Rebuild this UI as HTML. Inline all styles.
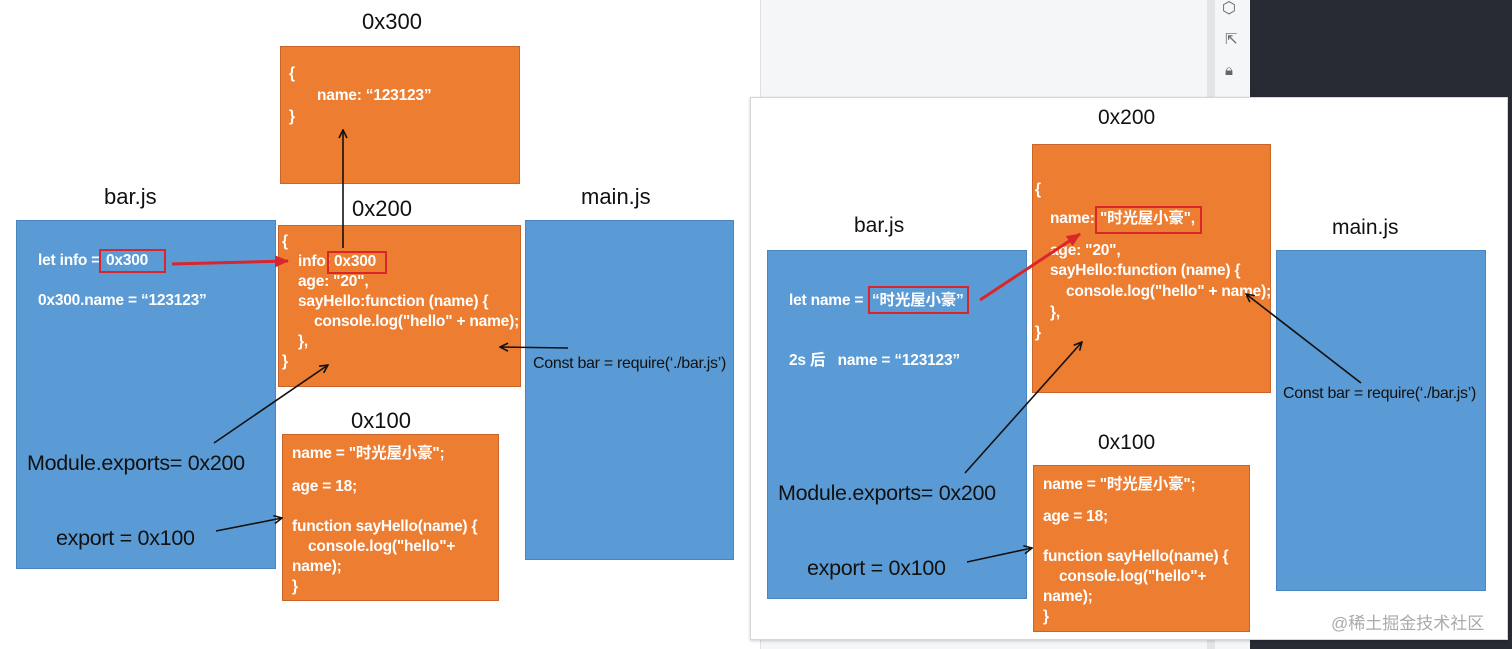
<!DOCTYPE html>
<html><head><meta charset="utf-8"><style>
body{margin:0;width:1512px;height:649px;position:relative;overflow:hidden;background:#fff;font-family:"Liberation Sans","Noto Sans CJK SC",sans-serif;}
div{position:absolute;box-sizing:border-box;}
.o{background:#ed7d31;border:1px solid #c8642a;}
.b{background:#5b9bd5;border:1px solid #4a85bd;}
.t{color:#fff;font-weight:bold;font-size:15.5px;letter-spacing:-0.2px;white-space:nowrap;line-height:20px;}
.l{color:#111;font-size:22px;white-space:nowrap;}
.k{color:#111;font-size:21.5px;white-space:nowrap;letter-spacing:-0.3px;}
.s{color:#111;font-size:16px;white-space:nowrap;letter-spacing:-0.3px;}
.r{border:2px solid #d8262a;}
</style></head><body>
<div style="left:760px;top:0;width:455px;height:649px;background:#f5f6f8;border-left:1px solid #dfe1e5"></div>
<div style="left:1207px;top:0;width:8px;height:649px;background:#e2e4e8"></div>
<div style="left:1215px;top:0;width:35px;height:649px;background:#f5f6f8"></div>
<div style="left:1250px;top:0;width:262px;height:649px;background:#282b33"></div>
<div style="left:1222px;top:-2px;color:#666;font-size:16px">⬡</div>
<div style="left:1225px;top:30px;color:#666;font-size:15px">⇱</div>
<div style="left:1225px;top:62px;color:#666;font-size:15px">🔒︎</div>
<div style="left:750px;top:97px;width:758px;height:543px;background:#fff;border:1px solid #d6d6d6;box-shadow:0 1px 3px rgba(0,0,0,.2)"></div>

<div class="l" style="left:362px;top:9px">0x300</div>
<div class="o" style="left:280px;top:46px;width:240px;height:138px"></div>
<div class="t" style="left:289px;top:64px">{</div>
<div class="t" style="left:317px;top:86px">name: “123123”</div>
<div class="t" style="left:289px;top:107px">}</div>

<div class="l" style="left:104px;top:184px">bar.js</div>
<div class="b" style="left:16px;top:220px;width:260px;height:349px"></div>
<div class="t" style="left:38px;top:251px">let info = </div>
<div class="r" style="left:99px;top:249px;width:67px;height:24px"></div>
<div class="t" style="left:106px;top:251px">0x300</div>
<div class="t" style="left:38px;top:291px">0x300.name = “123123”</div>
<div class="k" style="left:27px;top:451px">Module.exports= 0x200</div>
<div class="k" style="left:56px;top:526px">export = 0x100</div>

<div class="l" style="left:352px;top:196px">0x200</div>
<div class="o" style="left:278px;top:225px;width:243px;height:162px"></div>
<div class="t" style="left:282px;top:232px">{</div>
<div class="t" style="left:298px;top:252px">info: </div>
<div class="r" style="left:327px;top:251px;width:60px;height:23px"></div>
<div class="t" style="left:334px;top:252px">0x300</div>
<div class="t" style="left:298px;top:272px">age: "20",</div>
<div class="t" style="left:298px;top:292px">sayHello:function (name) {</div>
<div class="t" style="left:314px;top:312px;width:210px;overflow:hidden">console.log("hello" + name);</div>
<div class="t" style="left:298px;top:332px">},</div>
<div class="t" style="left:282px;top:352px">}</div>

<div class="l" style="left:581px;top:184px">main.js</div>
<div class="b" style="left:525px;top:220px;width:209px;height:340px"></div>
<div class="s" style="left:533px;top:355px">Const bar = require(‘./bar.js’)</div>

<div class="l" style="left:351px;top:408px">0x100</div>
<div class="o" style="left:282px;top:434px;width:217px;height:167px"></div>
<div class="t" style="left:292px;top:444px">name = "时光屋小豪";</div>
<div class="t" style="left:292px;top:477px">age = 18;</div>
<div class="t" style="left:292px;top:517px">function sayHello(name) {</div>
<div class="t" style="left:308px;top:537px">console.log("hello"+</div>
<div class="t" style="left:292px;top:557px">name);</div>
<div class="t" style="left:292px;top:577px">}</div>

<div class="l" style="left:1098px;top:106px;font-size:21px">0x200</div>
<div class="o" style="left:1032px;top:144px;width:239px;height:249px"></div>
<div class="t" style="left:1035px;top:180px">{</div>
<div class="t" style="left:1050px;top:209px">name: </div>
<div class="r" style="left:1095px;top:206px;width:107px;height:28px"></div>
<div class="t" style="left:1100px;top:209px">"时光屋小豪",</div>
<div class="t" style="left:1050px;top:241px">age: "20",</div>
<div class="t" style="left:1050px;top:261px">sayHello:function (name) {</div>
<div class="t" style="left:1066px;top:282px;width:204px;overflow:hidden">console.log("hello" + name);</div>
<div class="t" style="left:1050px;top:303px">},</div>
<div class="t" style="left:1035px;top:323px">}</div>

<div class="l" style="left:854px;top:214px;font-size:21px">bar.js</div>
<div class="b" style="left:767px;top:250px;width:260px;height:349px"></div>
<div class="t" style="left:789px;top:291px">let name = </div>
<div class="r" style="left:868px;top:286px;width:101px;height:28px"></div>
<div class="t" style="left:872px;top:291px">“时光屋小豪”</div>
<div class="t" style="left:789px;top:351px">2s 后&nbsp;&nbsp;&nbsp;name = “123123”</div>
<div class="k" style="left:778px;top:481px">Module.exports= 0x200</div>
<div class="k" style="left:807px;top:556px">export = 0x100</div>

<div class="l" style="left:1332px;top:216px;font-size:21px">main.js</div>
<div class="b" style="left:1276px;top:250px;width:210px;height:341px"></div>
<div class="s" style="left:1283px;top:385px">Const bar = require(‘./bar.js’)</div>

<div class="l" style="left:1098px;top:431px;font-size:21px">0x100</div>
<div class="o" style="left:1033px;top:465px;width:217px;height:167px"></div>
<div class="t" style="left:1043px;top:475px">name = "时光屋小豪";</div>
<div class="t" style="left:1043px;top:507px">age = 18;</div>
<div class="t" style="left:1043px;top:547px">function sayHello(name) {</div>
<div class="t" style="left:1059px;top:567px">console.log("hello"+</div>
<div class="t" style="left:1043px;top:587px">name);</div>
<div class="t" style="left:1043px;top:607px">}</div>
<div style="left:1331px;top:609px;color:#aaa;font-size:17px;white-space:nowrap">@稀土掘金技术社区</div>

<svg width="1512" height="649" style="position:absolute;left:0;top:0">
<defs>
<marker id="a" markerWidth="10" markerHeight="10" refX="9" refY="5" orient="auto" markerUnits="userSpaceOnUse"><path d="M1,1 L9,5 L1,9" fill="none" stroke="#111" stroke-width="1.6"/></marker>
<marker id="rd" markerWidth="14" markerHeight="12" refX="13" refY="6" orient="auto" markerUnits="userSpaceOnUse"><path d="M0,0 L14,6 L0,12 z" fill="#d8262a"/></marker>
</defs>
<g stroke="#111" stroke-width="1.6" fill="none" marker-end="url(#a)">
<line x1="343" y1="248" x2="343" y2="130"/>
<line x1="214" y1="443" x2="328" y2="365"/>
<line x1="216" y1="531" x2="282" y2="518"/>
<line x1="568" y1="348" x2="500" y2="347"/>
<line x1="965" y1="473" x2="1082" y2="342"/>
<line x1="967" y1="562" x2="1032" y2="548"/>
<line x1="1361" y1="383" x2="1246" y2="294"/>
</g>
<g stroke="#d8262a" stroke-width="3" fill="none" marker-end="url(#rd)">
<line x1="172" y1="264" x2="288" y2="261"/>
<line x1="980" y1="300" x2="1080" y2="234"/>
</g>
</svg>
</body></html>
